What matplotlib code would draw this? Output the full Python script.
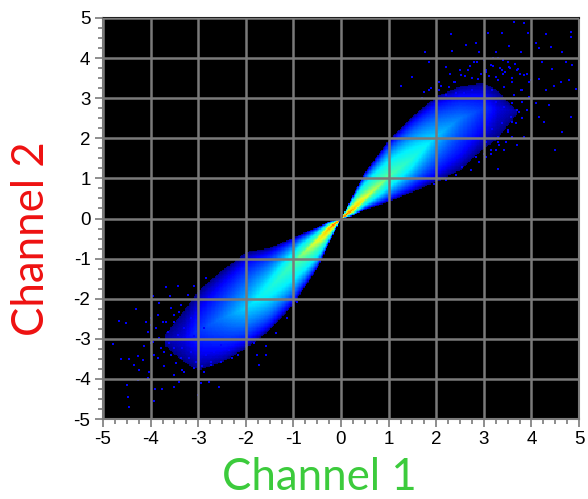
import numpy as np
import matplotlib
matplotlib.use("Agg")
import matplotlib.pyplot as plt
from matplotlib.colors import LinearSegmentedColormap
from matplotlib.ticker import MultipleLocator

# band of the density cloud, read per Channel 1 position
band_x    = [-3.7,-3.3,-3.0,-2.5,-2.0,-1.5,-1.0,-0.5,-0.25,0.0,0.25,0.5,1.0,1.5,2.0,2.5,3.0,3.3,3.7]
band_low  = [-3.2,-3.6,-3.8,-3.6,-3.25,-2.8,-2.15,-1.25,-0.62,0.0,0.07,0.22,0.42,0.66,0.92,1.2,1.75,2.0,2.6]
band_high = [-2.9,-2.3,-1.8,-1.3,-0.85,-0.74,-0.48,-0.22,-0.07,0.0,0.58,1.15,1.95,2.55,3.05,3.3,3.4,3.2,2.7]
band_mid  = [-3.1,-3.0,-2.8,-2.5,-2.25,-1.75,-1.1,-0.55,-0.25,0.0,0.22,0.5,1.05,1.5,2.05,2.5,2.75,2.75,2.7]
band_peak = [0.02,0.05,0.11,0.18,0.27,0.36,0.46,0.62,0.80,1.0,0.80,0.62,0.48,0.38,0.26,0.18,0.11,0.05,0.02]

# isolated pixels outside the cloud
sparse_x = [3.64,3.85,3.39,3.08,2.31,3.92,4.3,4.84,4.84,4.1,4.16,4.41,4.65,2.83,2.62,2.34,2.9,1.77,3.25,3.53,3.78,4.86,4.23,4.72,4.44,4.16,4.62,4.48,4.79,4.93,4.3,4.09,4.37,4.16,4.27,4.84,4.65,4.49,3.29,3.04,3.43,3.7,3.85,3.6,1.26,1.5,1.85,2.2,3.2,3.4,3.5,3.7,3.9,3.3,3.6,3.8,3.95,3.3,3.55,3.75,3.9,3.4,3.6,3.8,3.5,3.3,3.15,3.7,3.45,3.2,3.0,2.7,2.5,2.3,2.85,2.1,1.9,1.7,3.05,3.1,2.6,2.4,2.75,2.95,3.35,3.65,
            2.27,2.38,2.52,2.66,2.8,2.87,3.04,3.15,3.25,3.39,3.53,3.71,3.85,3.99,3.6,3.43,3.18,3.01,2.76,2.59,2.41,2.2,2.06,2.06,1.85,1.75,3.64,3.78,3.95,3.81,3.6,3.43,3.25,3.74,3.57,3.39,3.18,3.08,3.67,3.5,3.29,3.04,3.32,3.46,3.15,3.25,3.01,2.73,2.55,2.9,2.83,2.41,2.2,1.96,
            -4.48,-4.45,-4.5,-3.92,-3.9,-3.76,-3.5,-3.4,-3,-2.94,-2.77,-2.56,-4.66,-4.52,-4.78,-4.31,-4.62,-4.45,-4.27,-4.34,-4.24,-4.03,-4.06,-4.27,-4.17,-4.13,-4.06,-4.1,-3.96,-3.6,-3.43,-3.68,-3.82,-3.99,-3.89,-3.96,-3.78,-3.85,-3.57,-3.71,-3.47,-3.5,-3.29,-3.64,-3.5,-3.75,-3.4,-3.57,-3.33,-3.19,-3.08,-2.87,-2.73,-2.52,-2.28,-1.72,-1.76,-1.58,
            -3.99,-3.85,-3.68,-3.5,-3.36,-3.22,-3.08,-2.84,-3.99,-3.82,-3.61,-3.43,-3.29,-3.15,-3.92,-3.71,-3.5,-3.36,-3.15,-3.01,-2.84,-2.66,-2.52,-2.35,-2.17,-2,-1.83,-2.73,-3.05,-2.91,-3.33,-3.08,-2.87,-1.58,-1.37,-1.13,-0.92]
sparse_y = [4.91,4.87,4.63,4.62,4.6,4.62,4.6,4.66,4.53,4.37,4.24,4.27,4.16,4.37,4.33,4.18,4.16,4.14,4.16,4.3,4.16,3.83,3.91,3.91,3.74,3.49,3.41,3.3,3.45,3.22,3.2,2.87,2.83,2.53,2.41,2.53,2.16,1.7,1.24,1.53,1.7,1.83,2.03,2.03,3.3,3.53,3.91,3.78,3.8,3.6,3.9,3.7,3.6,3.45,3.5,3.2,3.4,4.0,3.75,3.6,2.7,3.95,2.4,2.5,2.2,1.9,1.6,2.7,3.65,4.0,3.95,3.8,3.7,3.6,3.9,3.3,3.25,3.0,3.7,3.55,3.55,3.4,3.5,3.6,3.75,3.85,
            3.28,3.41,3.58,3.7,3.91,3.49,3.66,3.83,3.53,3.7,3.78,3.74,3.58,3.45,3.41,3.28,3.2,3.16,3.2,3.12,3.12,3.08,3.2,3.41,3.2,3.16,3.08,3.2,3.03,2.91,2.87,2.78,2.91,2.66,2.53,2.37,2.24,2.41,2.37,2.16,2.03,1.91,1.83,1.91,1.7,1.7,1.62,1.2,1.28,1.41,1.53,1.08,0.95,0.87,
            -4.44,-4.69,-4.15,-4.54,-4.26,-4.26,-4.19,-4.07,-4.4,-4.11,-4.07,-4.19,-2.55,-2.61,-3.12,-2.26,-3.5,-3.5,-3.44,-3.65,-3.78,-3.82,-3.98,-4.03,-3.53,-3.19,-2.82,-2.57,-1.93,-1.93,-1.69,-1.72,-2.11,-2.48,-2.73,-3.07,-3.23,-3.48,-3.4,-3.69,-3.61,-3.9,-3.82,-2.82,-2.57,-2.57,-2.32,-2.23,-3.23,-3.48,-3.73,-3.82,-3.65,-3.57,-3.48,-3.65,-3.4,-3.4,
            -2.65,-2.4,-2.57,-2.4,-2.15,-1.9,-1.69,-1.48,-3.11,-2.98,-3.11,-2.9,-2.73,-2.48,-3.4,-3.32,-3.23,-3.48,-3.32,-3.19,-3.4,-3.32,-3.15,-3.28,-3.4,-3.19,-3.11,-3.57,-3.57,-3.69,-3.78,-2.94,-2.73,-3.19,-2.86,-2.48,-2.07]

x_ticks = [-5,-4,-3,-2,-1,0,1,2,3,4,5]
x_label = "Channel 1"
y_label = "Channel 2"

W, H = 588, 499
fig = plt.figure(figsize=(W/100, H/100), dpi=100, facecolor="white")
ax = fig.add_axes([103/W, 1-419/H, 476/W, 401/H], facecolor="black")

cmap = LinearSegmentedColormap.from_list("dens", [
    (0.00, (0, 0, 0.5)), (0.06, (0, 0, 1)), (0.17, (0, 0.45, 1)), (0.30, (0, 0.95, 1)),
    (0.45, (0.25, 1, 0.7)), (0.60, (0.9, 1, 0.15)), (0.73, (1, 0.85, 0)),
    (0.86, (1, 0.45, 0)), (1.00, (0.95, 0.1, 0))])

gx = np.linspace(-5, 5, 361)
gy = np.linspace(-5, 5, 301)
X, Y = np.meshgrid(gx, gy)
low = np.interp(X, band_x, band_low, left=np.nan, right=np.nan)
high = np.interp(X, band_x, band_high, left=np.nan, right=np.nan)
mid = np.interp(X, band_x, band_mid, left=np.nan, right=np.nan)
peak = np.interp(X, band_x, band_peak, left=np.nan, right=np.nan)
with np.errstate(invalid="ignore", divide="ignore"):
    t = np.where(Y >= mid, (Y-mid)/(high-mid), (mid-Y)/(mid-low))
    V = peak*np.clip(1-t, 0, 1)**0.85
V = np.ma.masked_where(~(t < 1), V)
ax.imshow(V, extent=[-5, 5, -5, 5], origin="lower", cmap=cmap, vmin=0, vmax=1,
          aspect="auto", interpolation="nearest", zorder=1)
ax.scatter(sparse_x, sparse_y, s=3.0, marker="s", color=(0, 0, 1), linewidths=0, zorder=2)

ax.set_xlim(-5, 5)
ax.set_ylim(-5, 5)
ax.set_xticks(x_ticks)
ax.set_yticks(x_ticks)
ax.xaxis.set_minor_locator(MultipleLocator(0.25))
ax.yaxis.set_minor_locator(MultipleLocator(0.25))
grey = "#7a7a7a"
ax.grid(True, which="major", color=grey, lw=1.8, zorder=3)
ax.set_axisbelow(False)
ax.tick_params(which="major", length=6, width=1.2, color=grey, pad=3)
ax.tick_params(which="minor", length=3.5, width=1.2, color=grey)
ax.set_xticklabels([str(v) for v in x_ticks], fontfamily="Liberation Sans", fontsize=13.5)
ax.set_yticklabels([str(v) for v in x_ticks], fontfamily="Liberation Sans", fontsize=13.5)
for name, sp in ax.spines.items():
    sp.set_color("#222222" if name == "top" else grey)
    sp.set_linewidth(1.5)

fig.text(319/W, 1-477/H, x_label, color="#3ccb3c", fontsize=31.5, family="Lato", ha="center", va="center")
fig.text(32/W, 1-239/H, y_label, color="#ee1111", fontsize=31.5, family="Lato", ha="center", va="center", rotation=90)
fig.savefig("out.png", dpi=100)
